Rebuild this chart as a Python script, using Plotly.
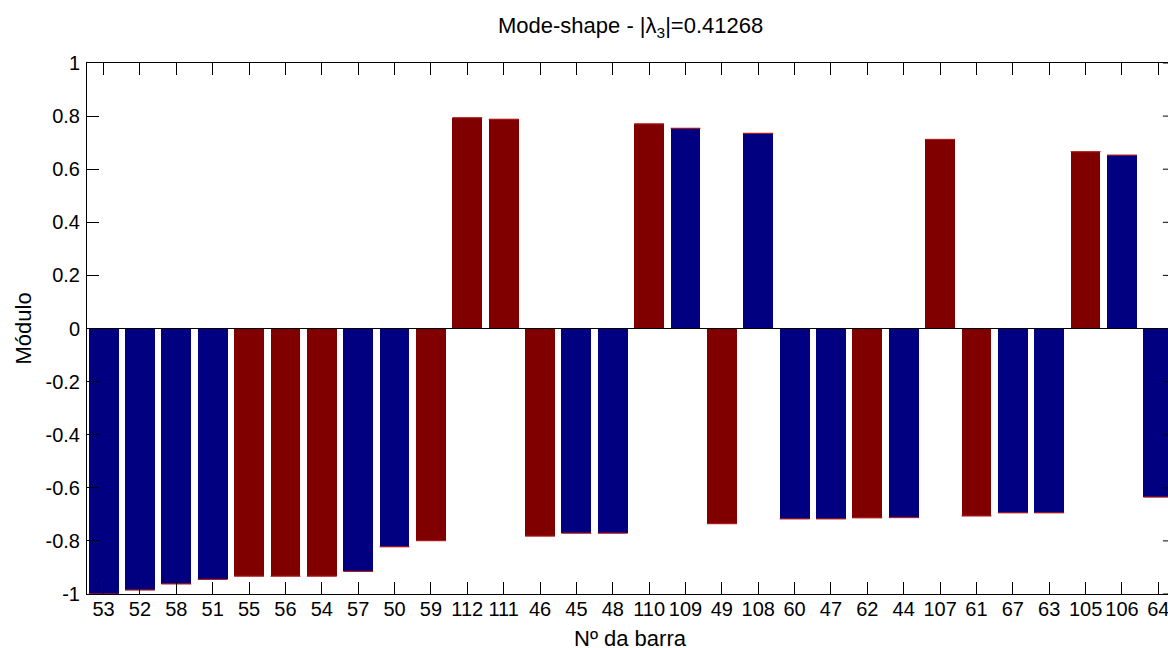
import plotly.graph_objects as go

# ---- data ----
bar_ids = ["53", "52", "58", "51", "55", "56", "54", "57", "50", "59",
           "112", "111", "46", "45", "48", "110", "109", "49", "108", "60",
           "47", "62", "44", "107", "61", "67", "63", "105", "106", "64"]
modulo = [-1.000, -0.985, -0.962, -0.945, -0.933, -0.933, -0.933, -0.915, -0.822, -0.799,
          0.794, 0.788, -0.782, -0.771, -0.771, 0.771, 0.754, -0.735, 0.735, -0.717,
          -0.717, -0.713, -0.712, 0.712, -0.706, -0.694, -0.694, 0.666, 0.653, -0.635]
group = ["b", "b", "b", "b", "r", "r", "r", "b", "b", "r",
         "r", "r", "r", "b", "b", "r", "b", "r", "b", "b",
         "b", "r", "b", "r", "r", "b", "b", "r", "b", "b"]
y_ticks = [1, 0.8, 0.6, 0.4, 0.2, 0, -0.2, -0.4, -0.6, -0.8, -1]
y_tick_text = ["1", "0.8", "0.6", "0.4", "0.2", "0", "-0.2", "-0.4", "-0.6", "-0.8", "-1"]

palette = {"b": "#000080", "r": "#800000"}
FONT = "Liberation Sans, Arial, sans-serif"
BAR_W = 0.82

pos = list(range(1, len(bar_ids) + 1))
colors = [palette[g] for g in group]

fig = go.Figure()
fig.add_trace(go.Bar(
    x=pos, y=modulo, width=BAR_W,
    marker=dict(color=colors, line=dict(width=0)),
    hoverinfo="skip", showlegend=False,
))

# thin reddish cap line at the value end of each bar (MATLAB edge look)
cx, cy = [], []
for p, v in zip(pos, modulo):
    cx += [p - BAR_W / 2, p + BAR_W / 2, None]
    cy += [v, v, None]
fig.add_trace(go.Scatter(
    x=cx, y=cy, mode="lines", line=dict(color="#b01c1c", width=1.2),
    hoverinfo="skip", showlegend=False,
))

X0 = 0.544
X_FULL_END = len(bar_ids) + 1 - X0   # axis end (beyond window, clipped)
L, R, T, B = 87, 0, 63, 54
W, H = 1168, 648
unit = 36.37
x_end_visible = X0 + (W - L - R) / unit

shapes = [
    # baseline at zero
    dict(type="line", xref="paper", yref="y", x0=0, x1=1, y0=0, y1=0,
         line=dict(color="black", width=1), layer="above"),
]
# right-side inward ticks (right axis is beyond the visible area)
for t in y_ticks:
    shapes.append(dict(type="line", xref="x", yref="y",
                       x0=X_FULL_END - 12 / unit, x1=X_FULL_END, y0=t, y1=t,
                       line=dict(color="black", width=1), layer="above"))

fig.update_layout(
    width=W, height=H,
    margin=dict(l=L, r=R, t=T, b=B, pad=0),
    plot_bgcolor="white", paper_bgcolor="white",
    font=dict(family=FONT, size=20, color="black"),
    bargap=0,
    shapes=shapes,
    xaxis=dict(
        range=[X0, x_end_visible], automargin=False,
        tickmode="array", tickvals=pos, ticktext=bar_ids,
        ticks="inside", ticklen=12, tickwidth=1, tickcolor="black",
        showline=True, linecolor="black", linewidth=1, mirror="ticks",
        showgrid=False, zeroline=False, ticklabelstandoff=-3,
        ticklabeloverflow="allow",
        tickfont=dict(family=FONT, size=20, color="black"),
    ),
    yaxis=dict(
        range=[-1, 1], automargin=False,
        tickmode="array", tickvals=y_ticks, ticktext=y_tick_text,
        ticks="inside", ticklen=12, tickwidth=1, tickcolor="black",
        showline=True, linecolor="black", linewidth=1, mirror=False,
        showgrid=False, zeroline=False, ticklabelstandoff=2,
        tickfont=dict(family=FONT, size=20, color="black"),
    ),
    annotations=[
        dict(text="Mode-shape - |λ<sub>3</sub>|=0.41268",
             xref="x", yref="paper", x=(X0 + X_FULL_END) / 2, y=1 + 36 / (H - T - B),
             xanchor="center", yanchor="middle", showarrow=False,
             font=dict(family=FONT, size=22, color="black")),
        dict(text="Nº da barra",
             xref="x", yref="paper", x=(X0 + X_FULL_END) / 2, y=-44 / (H - T - B),
             xanchor="center", yanchor="middle", showarrow=False,
             font=dict(family=FONT, size=22, color="black")),
        dict(text="Módulo", textangle=-90,
             xref="paper", yref="paper", x=-(L - 23) / (W - L - R), y=0.5,
             xanchor="center", yanchor="middle", showarrow=False,
             font=dict(family=FONT, size=22, color="black")),
    ],
)

# remove the default page margin / scrollbars so the figure fills the window
page_fix = ("document.documentElement.style.margin='0';"
            "document.documentElement.style.overflow='hidden';"
            "document.body.style.margin='0';"
            "document.body.style.overflow='hidden';")

fig.write_html("out.html", post_script=page_fix,
               config={"displayModeBar": False})
